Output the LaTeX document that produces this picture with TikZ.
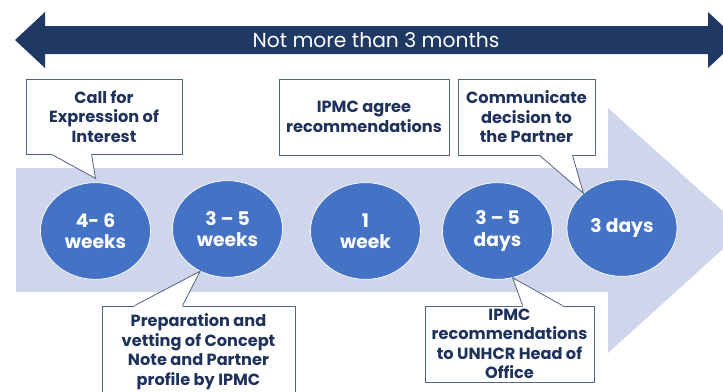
\documentclass[tikz,border=0pt]{standalone}
\usepackage{fontspec}
\setmainfont{Poppins}
\usetikzlibrary{shapes.geometric,calc}

\definecolor{navy}{RGB}{32,56,100}
\definecolor{lightband}{RGB}{207,213,234}
\definecolor{stageblue}{RGB}{68,114,196}
\definecolor{boxline}{RGB}{84,100,130}
\definecolor{boxtext}{RGB}{31,50,92}

\tikzset{
  stage/.style={ellipse, fill=stageblue, draw=white, line width=0.6pt,
    minimum width=3.3cm, minimum height=2.9cm, inner sep=0pt, align=center,
    text=white, font=\bfseries\fontsize{16}{18}\selectfont},
  note/.style={rectangle, draw=boxline, fill=white, line width=0.7pt,
    inner sep=0pt, align=center, text=boxtext,
    font=\bfseries\fontsize{13.8}{16.6}\selectfont},
  tail/.style={draw=boxline, line width=0.7pt}
}

\begin{document}
\begin{tikzpicture}[x=0.03cm, y=-0.03cm]
\useasboundingbox (0,0) rectangle (723,392);
\clip (0,0) rectangle (723,392);

% big arrow in the back
\fill[lightband] (16,168) -- (608,168) -- (608,108) -- (744,230) -- (608,353)
  -- (608,292) -- (16,292) -- cycle;

% time span
\fill[navy] (15,40) -- (45,12) -- (45,26) -- (708,26) -- (708,12) -- (738,40)
  -- (708,68) -- (708,54) -- (45,54) -- (45,68) -- cycle;
\node[text=white, font=\fontsize{17.3}{20}\selectfont] (span) at (376,40) {Not more than 3 months};

% stages
\node[stage] (c1) at (95.5,231) {4- 6\\weeks};
\node[stage] (c2) at (227.5,229) {3 – 5\\weeks};
\node[stage] (c3) at (365.5,231) {1\\week};
\node[stage] (c4) at (497.5,231) {3 – 5\\days};
\node[stage] (c5) at (622,228) {3 days};

% notes
\node[note, minimum width=4.68cm, minimum height=2.25cm] (call) at (104,116.5) {Call for\\Expression of\\Interest};
\node[note, minimum width=5.1cm, minimum height=2.28cm] (agree) at (364,117) {IPMC agree\\recommendations};
\node[note, minimum width=4.11cm, minimum height=2.28cm] (comm) at (526.5,117) {Communicate\\decision to\\the Partner};
\node[note, minimum width=5.79cm, minimum height=2.73cm] (prep) at (198.5,351.5) {Preparation and\\vetting of Concept\\Note and Partner\\profile by IPMC};
\node[note, minimum width=5.07cm, minimum height=2.28cm] (ipmc) at (509.5,344) {IPMC\\recommendations\\to UNHCR Head of\\Office};

% pointers
\coordinate (t1) at ($(c1.north)+(0,-4)$);
\coordinate (t2) at (c2.237);
\coordinate (t4) at (c4.288);
\coordinate (t5) at (c5.138);

\fill[white] ($(call.south west)+(26,-1.5)$) -- ($(call.south west)+(26,0)$) -- (t1)
  -- ($(call.south west)+(66,0)$) -- ($(call.south west)+(66,-1.5)$) -- cycle;
\draw[tail] ($(call.south west)+(26,0)$) -- (t1) -- ($(call.south west)+(66,0)$);

\fill[white] ($(comm.south west)+(82,-1.5)$) -- ($(comm.south west)+(82,0)$) -- (t5)
  -- ($(comm.south west)+(115,0)$) -- ($(comm.south west)+(115,-1.5)$) -- cycle;
\draw[tail] ($(comm.south west)+(82,0)$) -- (t5) -- ($(comm.south west)+(115,0)$);

\fill[white] ($(prep.north west)+(33,1.5)$) -- ($(prep.north west)+(33,0)$) -- (t2)
  -- ($(prep.north west)+(81,0)$) -- ($(prep.north west)+(81,1.5)$) -- cycle;
\draw[tail] ($(prep.north west)+(33,0)$) -- (t2) -- ($(prep.north west)+(81,0)$);

\fill[white] ($(ipmc.north west)+(98,1.5)$) -- ($(ipmc.north west)+(98,0)$) -- (t4)
  -- ($(ipmc.north west)+(138,0)$) -- ($(ipmc.north west)+(138,1.5)$) -- cycle;
\draw[tail] ($(ipmc.north west)+(98,0)$) -- (t4) -- ($(ipmc.north west)+(138,0)$);
\end{tikzpicture}
\end{document}
